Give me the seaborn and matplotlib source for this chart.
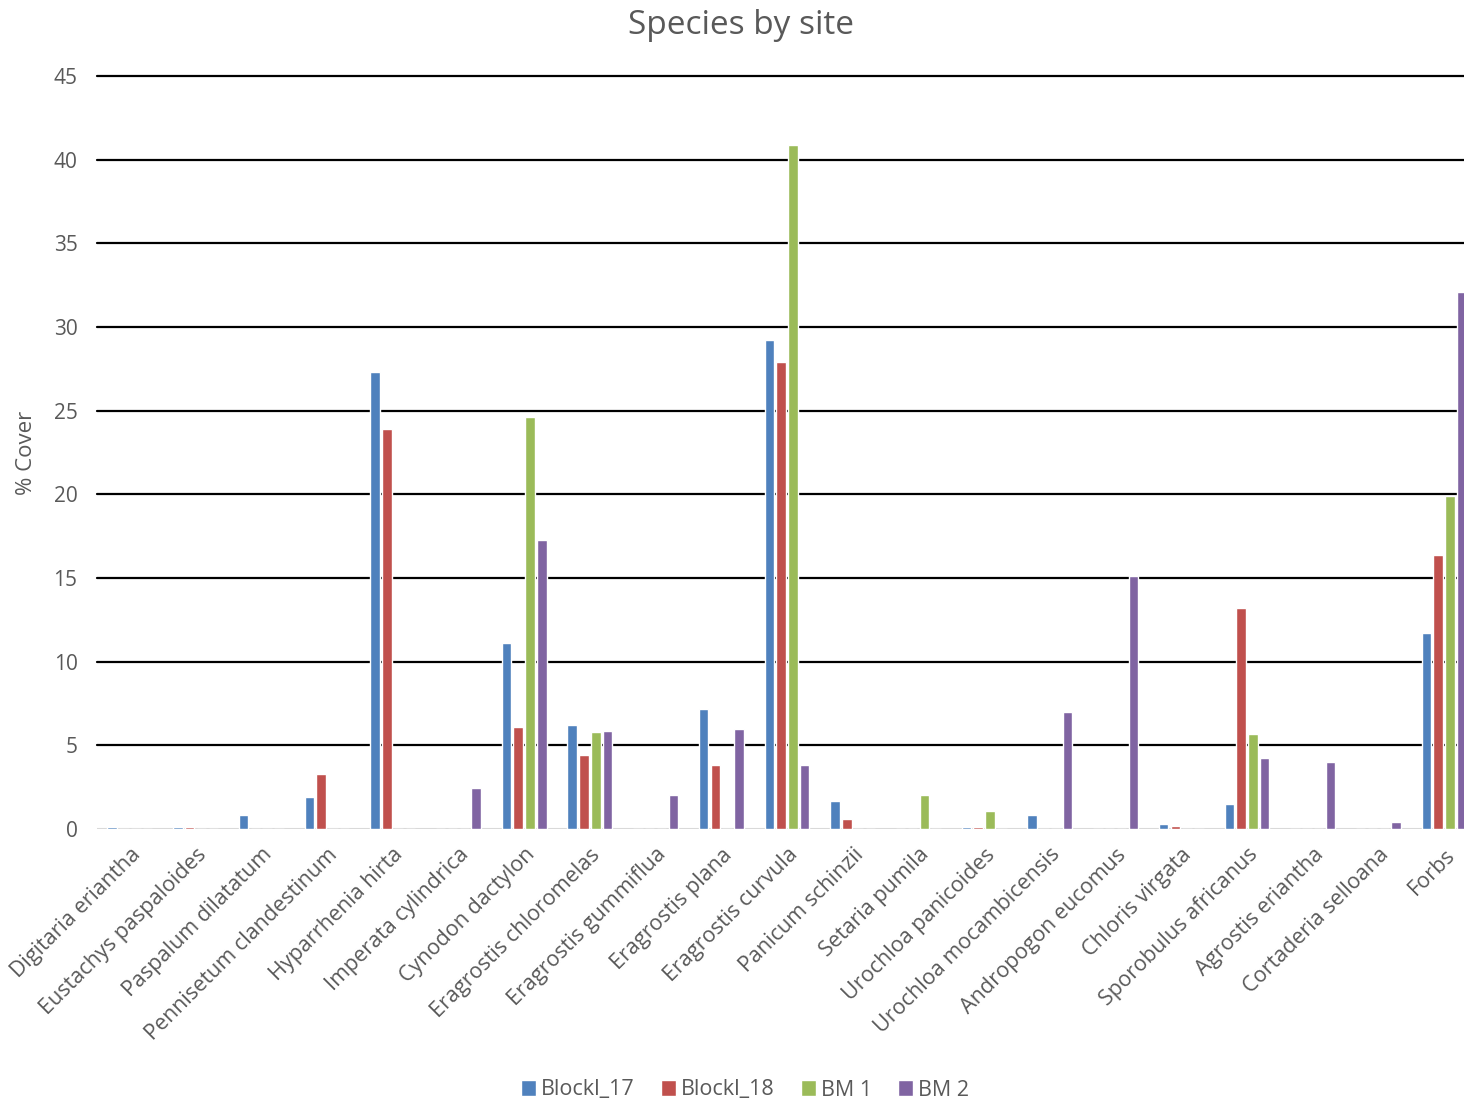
import matplotlib
matplotlib.use("Agg")
import matplotlib.pyplot as plt
import seaborn as sns
import pandas as pd

species = ["Digitaria eriantha", "Eustachys paspaloides", "Paspalum dilatatum",
           "Pennisetum clandestinum", "Hyparrhenia hirta", "Imperata cylindrica",
           "Cynodon dactylon", "Eragrostis chloromelas", "Eragrostis gummiflua",
           "Eragrostis plana", "Eragrostis curvula", "Panicum schinzii",
           "Setaria pumila", "Urochloa panicoides", "Urochloa mocambicensis",
           "Andropogon eucomus", "Chloris virgata", "Sporobulus africanus",
           "Agrostis eriantha", "Cortaderia selloana", "Forbs"]
sites = ["Blockl_17", "Blockl_18", "BM 1", "BM 2"]

blockl_17 = [0.1, 0.1, 0.85, 1.9, 27.3, 0, 11.1, 6.2, 0, 7.2, 29.2, 1.65, 0, 0.1, 0.85, 0, 0.3, 1.5, 0, 0, 11.7]
blockl_18 = [0, 0.1, 0, 3.3, 23.9, 0, 6.1, 4.4, 0, 3.8, 27.9, 0.6, 0, 0.1, 0, 0, 0.15, 13.2, 0, 0, 16.4]
bm_1 = [0, 0, 0, 0, 0, 0, 24.6, 5.8, 0, 0, 40.9, 0, 2.05, 1.1, 0, 0, 0, 5.7, 0, 0, 19.9]
bm_2 = [0, 0, 0, 0, 0, 2.45, 17.3, 5.85, 2.05, 6.0, 3.85, 0, 0, 0, 7.0, 15.1, 0, 4.25, 4.0, 0.4, 32.1]

colors = ["#4F81BD", "#C0504D", "#9BBB59", "#8064A2"]

rows = []
for site, vals in zip(sites, [blockl_17, blockl_18, bm_1, bm_2]):
    for sp, v in zip(species, vals):
        rows.append({"Species": sp, "Site": site, "Cover": v})
df = pd.DataFrame(rows)

sns.set_theme(style="white")
plt.rcParams['font.family'] = ['Open Sans', 'DejaVu Sans']

fig = plt.figure(figsize=(14.64, 11.04), dpi=100)
W, H = 1464, 1104
left_px, right_px = 97, 1477
bottom_px, top_px = 829, 76
ax = fig.add_axes([left_px / W, 1 - bottom_px / H, (right_px - left_px) / W, (bottom_px - top_px) / H])

sns.barplot(data=df, x="Species", y="Cover", hue="Site", order=species, hue_order=sites,
            palette=colors, width=0.72, gap=0.2, ax=ax, legend=True, saturation=1)

ax.set_ylim(0, 45)
ax.set_xlim(-0.5, len(species) - 0.5)
ax.set_yticks(range(0, 46, 5))
for y in range(5, 46, 5):
    ax.axhline(y, color="black", lw=1.6, zorder=0, clip_on=False)
ax.axhline(0, color="#D9D9D9", lw=1.5, zorder=0)
for s in ax.spines.values():
    s.set_visible(False)

ax.set_xlabel("")
ax.set_ylabel("% Cover", fontsize=16, color="#595959", labelpad=12)
ax.tick_params(axis="y", labelsize=15, labelcolor="#595959", length=0, pad=14)
ax.tick_params(axis="x", labelsize=15.5, labelcolor="#595959", length=0, pad=11)
ax.set_xticks(range(len(species)))
ax.set_xticklabels(species, rotation=45, ha="right", rotation_mode="anchor")

fig.text(741 / W, 1 - 26 / H, "Species by site", ha="center", va="center",
         fontsize=24, color="#595959")

handles, labels = ax.get_legend_handles_labels()
ax.legend_.remove()
fig.legend(handles, labels, loc="center", bbox_to_anchor=(745 / W, 1 - 1090 / H), ncol=4,
           frameon=False, fontsize=15.5, labelcolor="#595959", handlelength=0.7,
           handleheight=0.7, handletextpad=0.25, columnspacing=1.2)

fig.savefig("out.png", dpi=100)
